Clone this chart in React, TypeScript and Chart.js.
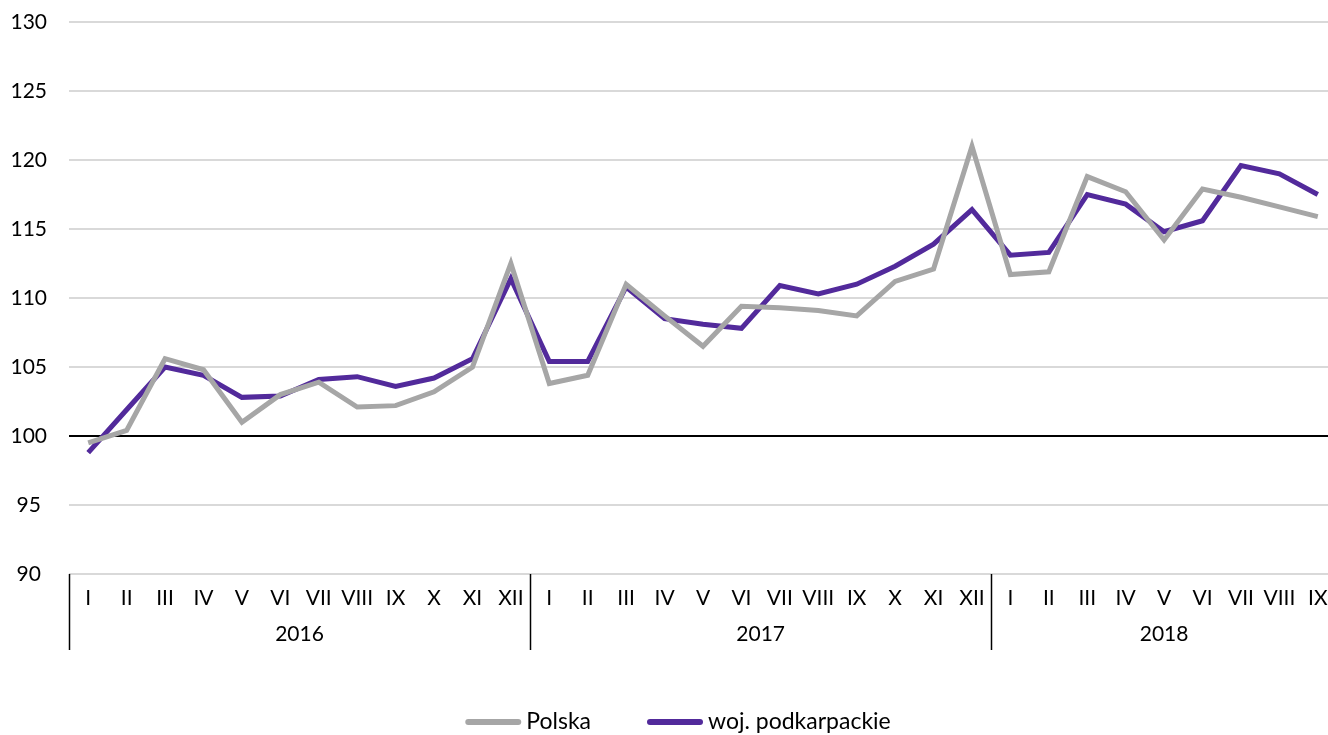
import React, { useEffect, useRef } from "react";
import { Chart, registerables } from "chart.js";

Chart.register(...registerables);

const months = ["I", "II", "III", "IV", "V", "VI", "VII", "VIII", "IX", "X", "XI", "XII"];
const years = ["2016", "2017", "2018"];
const monthsPerYear = [12, 12, 9];
const categories: string[] = [];
monthsPerYear.forEach((n) => {
  for (let i = 0; i < n; i++) categories.push(months[i]);
});

const polska = [
  99.5, 100.4, 105.6, 104.8, 101.0, 103.0, 103.9, 102.1, 102.2, 103.2, 105.0, 112.5,
  103.8, 104.4, 111.0, 108.7, 106.5, 109.4, 109.3, 109.1, 108.7, 111.2, 112.1, 121.0,
  111.7, 111.9, 118.8, 117.7, 114.2, 117.9, 117.3, 116.6, 115.9,
];
const podkarpackie = [
  98.8, 101.9, 105.0, 104.4, 102.8, 102.9, 104.1, 104.3, 103.6, 104.2, 105.6, 111.4,
  105.4, 105.4, 110.8, 108.5, 108.1, 107.8, 110.9, 110.3, 111.0, 112.3, 113.9, 116.4,
  113.1, 113.3, 117.5, 116.8, 114.8, 115.6, 119.6, 119.0, 117.5,
];

const FONT = "Lato, 'Open Sans', sans-serif";

const yearPlugin = {
  id: "yearGroups",
  afterDraw(chart: any) {
    const x = chart.scales.x;
    const ctx = chart.ctx;
    const top = x.top;
    const step = x.getPixelForValue(1) - x.getPixelForValue(0);
    ctx.save();
    ctx.strokeStyle = "#000";
    ctx.lineWidth = 1.5;
    ctx.fillStyle = "#000";
    ctx.font = `21px ${FONT}`;
    ctx.textAlign = "center";
    ctx.textBaseline = "middle";
    let start = 0;
    monthsPerYear.forEach((n, i) => {
      const left = x.getPixelForValue(start) - step / 2;
      const right = x.getPixelForValue(start + n - 1) + step / 2;
      ctx.beginPath();
      ctx.moveTo(Math.round(left) + 0.5, top);
      ctx.lineTo(Math.round(left) + 0.5, top + 76);
      ctx.stroke();
      ctx.fillText(years[i], (left + right) / 2, top + 60);
      start += n;
    });
    ctx.restore();
  },
};

const legendPlugin = {
  id: "customLegend",
  afterDraw(chart: any) {
    const ctx = chart.ctx;
    const lineW = 56;
    const gapText = 5;
    const gapItem = 56;
    const y = 722;
    ctx.save();
    ctx.font = `23px ${FONT}`;
    const items = chart.data.datasets.map((d: any) => ({
      label: d.label,
      color: d.borderColor,
      w: lineW + gapText + ctx.measureText(d.label).width,
    }));
    const total = items.reduce((a: number, it: any) => a + it.w, 0) + gapItem * (items.length - 1);
    let x = 678 - total / 2;
    items.forEach((it: any) => {
      ctx.strokeStyle = it.color;
      ctx.lineWidth = 6;
      ctx.lineCap = "round";
      ctx.beginPath();
      ctx.moveTo(x + 3, y);
      ctx.lineTo(x + lineW - 3, y);
      ctx.stroke();
      ctx.fillStyle = "#000";
      ctx.textAlign = "left";
      ctx.textBaseline = "middle";
      ctx.fillText(it.label, x + lineW + gapText, y);
      x += it.w + gapItem;
    });
    ctx.restore();
  },
};

export default function App() {
  const ref = useRef<HTMLCanvasElement>(null);
  useEffect(() => {
    if (!ref.current) return;
    const chart = new Chart(ref.current, {
      type: "line",
      data: {
        labels: categories,
        datasets: [
          {
            label: "Polska",
            data: polska,
            borderColor: "#a6a6a6",
            backgroundColor: "#a6a6a6",
            borderWidth: 5,
            pointRadius: 0,
            tension: 0,
          },
          {
            label: "woj. podkarpackie",
            data: podkarpackie,
            borderColor: "#522a9b",
            backgroundColor: "#522a9b",
            borderWidth: 5,
            pointRadius: 0,
            tension: 0,
          },
        ],
      },
      options: {
        animation: false,
        responsive: true,
        maintainAspectRatio: false,
        layout: { padding: { top: 22, right: 0, left: 0, bottom: 79 } },
        plugins: {
          legend: { display: false },
          tooltip: { enabled: false },
        },
        scales: {
          x: {
            offset: true,
            grid: { display: false, drawTicks: false },
            border: { display: false },
            ticks: {
              autoSkip: false,
              maxRotation: 0,
              padding: 12,
              color: "#000",
              font: { family: FONT, size: 21 },
            },
            afterFit: (s: any) => {
              s.height = 82;
              s.paddingLeft = 0;
              s.paddingRight = 0;
            },
          },
          y: {
            min: 90,
            max: 130,
            ticks: {
              stepSize: 5,
              crossAlign: "center",
              padding: 22,
              color: "#000",
              font: { family: FONT, size: 21 },
            },
            border: { display: false },
            grid: {
              drawTicks: false,
              lineWidth: 2,
              color: (c: any) => (c.tick && c.tick.value === 100 ? "#000000" : "#d9d9d9"),
            },
            afterFit: (s: any) => {
              s.width = 69;
              s.paddingTop = 0;
              s.paddingBottom = 0;
            },
          },
        },
      },
      plugins: [yearPlugin, legendPlugin],
    });
    return () => chart.destroy();
  }, []);
  return (
    <div style={{ position: "absolute", left: 0, top: 0, width: 1328, height: 735, overflow: "hidden" }}>
      <div style={{ width: 1337, height: 735 }}>
        <canvas ref={ref} />
      </div>
    </div>
  );
}
